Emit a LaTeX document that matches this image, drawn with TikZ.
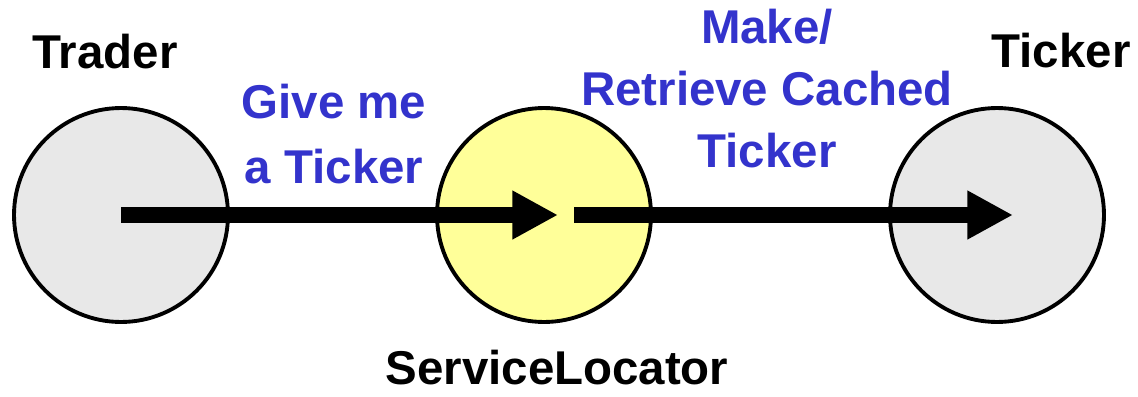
\documentclass[tikz,border=0pt]{standalone}
\usepackage{fontspec}
\setmainfont{Liberation Sans}
\usetikzlibrary{arrows.meta,positioning,calc}
\definecolor{labelBlue}{RGB}{51,51,204}
\definecolor{roleGray}{RGB}{232,232,232}
\definecolor{roleYellow}{RGB}{255,255,153}

\begin{document}
\begin{tikzpicture}[x=0.02cm, y=-0.02cm,
		role/.style={circle, draw=black, line width=2.2pt, minimum size=4.28cm, inner sep=0pt},
		roleName/.style={inner sep=0pt, anchor=base, font=\fontsize{27}{30}\selectfont\bfseries},
		callNote/.style={inner sep=0pt, anchor=north, align=center, text=labelBlue, font=\fontsize{27}{#1}\selectfont\bfseries},
		call/.style={line width=9pt, -{Triangle[length=26pt, width=26pt]}}]
				\useasboundingbox (0,0) rectangle (1138,396);
				\node[role, fill=roleGray] (trader) at (121,215) {};
				\node[role, fill=roleYellow] (locator) at (544,215) {};
				\node[role, fill=roleGray] (ticker) at (997,215) {};
				\node[roleName] (traderName) at (105,68) {Trader};
				\node[roleName] (tickerName) at (1061,67) {Ticker};
				\node[roleName] (locatorName) at (557,384) {ServiceLocator};
				\node[callNote=36.9] (askNote) at (334,84) {Give me\\a Ticker};
				\node[callNote=35.1] (cacheNote) at (767,9) {Make/\\Retrieve Cached\\Ticker};
				\draw[call] (trader.center) -- ($(locator.center)+(14,0)$);
				\draw[call] ($(locator.center)+(30,0)$) -- ($(ticker.center)+(16,0)$);
			\end{tikzpicture}
\end{document}
